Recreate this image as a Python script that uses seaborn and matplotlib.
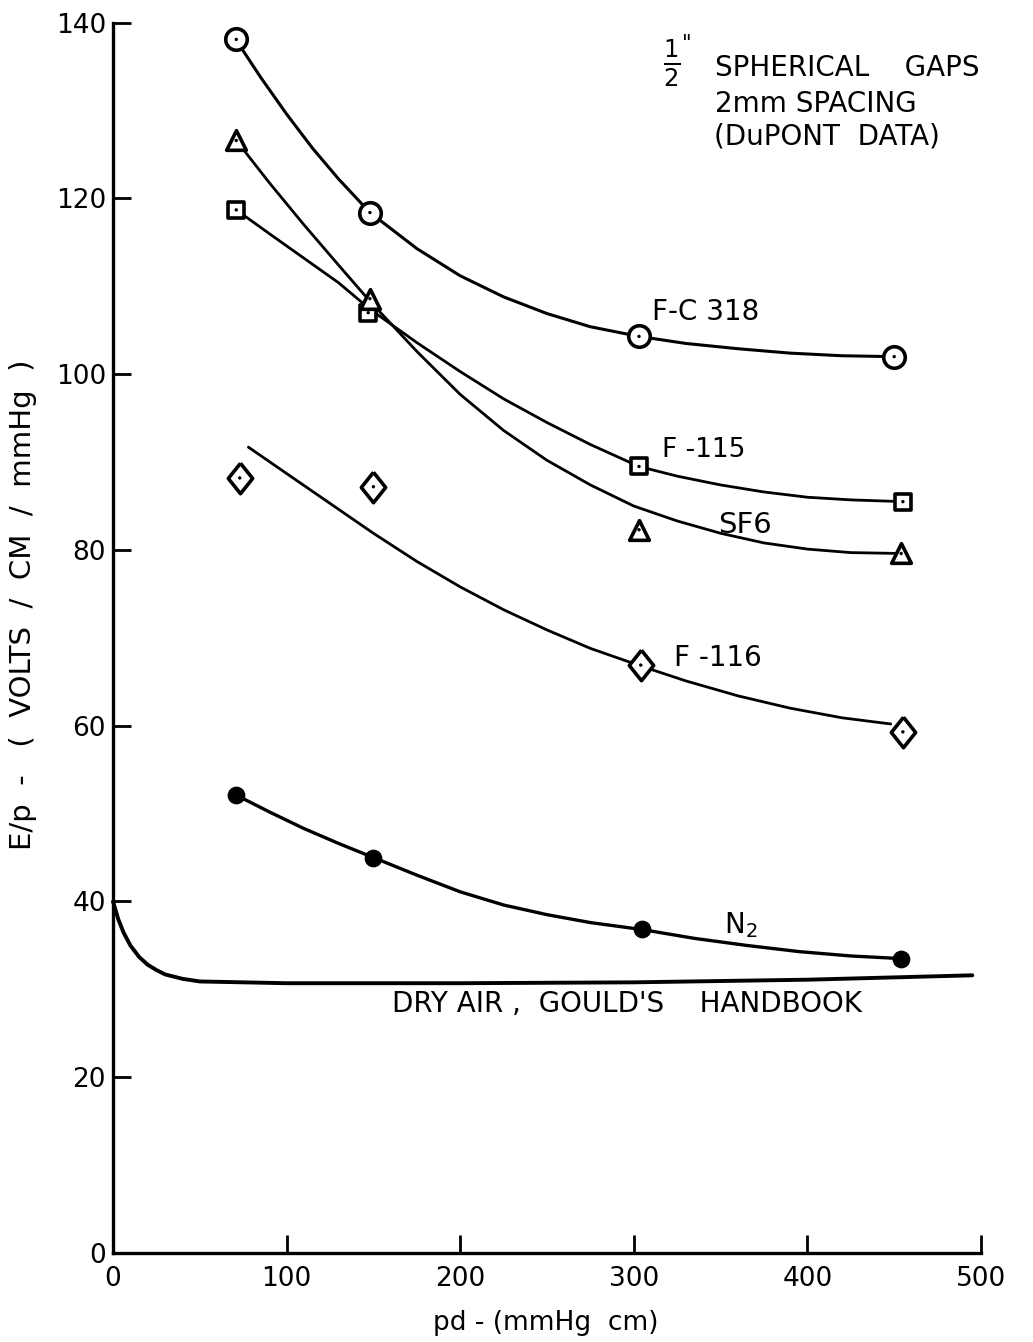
import numpy as np
import pandas as pd
import matplotlib
matplotlib.use("Agg")
import matplotlib.pyplot as plt
import seaborn as sns

# ---- measured data points (markers) ----
fc318_x = [71, 148, 303, 450]
fc318_y = [138.1, 118.4, 104.3, 102.0]
f115_x = [71, 147, 303, 455]
f115_y = [118.7, 107.0, 89.5, 85.5]
sf6_x = [71, 148, 303, 454]
sf6_y = [126.6, 108.6, 82.3, 79.6]
f116_x = [73, 150, 304, 455]
f116_y = [88.2, 87.2, 66.9, 59.3]
n2_x = [71, 150, 305, 454]
n2_y = [52.1, 45.0, 36.9, 33.5]

# ---- hand-drawn fitted curves ----
fc318_cx = [71, 85, 100, 115, 130, 148, 175, 200, 225, 250, 275, 303, 330, 360, 390, 420, 450]
fc318_cy = [138.0, 133.8, 129.6, 125.7, 122.2, 118.4, 114.3, 111.2, 108.8, 106.9, 105.4, 104.3,
            103.5, 102.9, 102.4, 102.1, 102.0]
f115_cx = [71, 90, 110, 130, 148, 175, 200, 225, 250, 275, 303, 325, 350, 375, 400, 425, 455]
f115_cy = [118.7, 116.0, 113.2, 110.4, 107.4, 103.6, 100.3, 97.2, 94.5, 92.0, 89.5, 88.4,
           87.4, 86.6, 86.0, 85.7, 85.5]
sf6_cx = [71, 90, 110, 130, 148, 175, 200, 225, 250, 275, 300, 325, 350, 375, 400, 425, 454]
sf6_cy = [126.6, 121.8, 117.0, 112.4, 108.3, 102.6, 97.7, 93.6, 90.2, 87.4, 85.0, 83.3,
          81.9, 80.8, 80.1, 79.7, 79.6]
f116_cx = [78, 100, 125, 150, 175, 200, 225, 250, 275, 304, 330, 360, 390, 420, 448]
f116_cy = [91.7, 88.7, 85.3, 81.9, 78.7, 75.8, 73.2, 70.9, 68.8, 66.8, 65.1, 63.4, 62.0, 60.9, 60.2]
n2_cx = [71, 90, 110, 130, 150, 175, 200, 225, 250, 275, 305, 335, 365, 395, 425, 454]
n2_cy = [52.1, 50.2, 48.3, 46.6, 45.0, 43.0, 41.1, 39.6, 38.5, 37.6, 36.8, 35.8, 35.0, 34.3, 33.8, 33.5]
air_cx = [0, 3, 6, 10, 15, 20, 25, 30, 40, 50, 75, 100, 200, 300, 400, 495]
air_cy = [40.0, 38.0, 36.5, 35.0, 33.7, 32.8, 32.2, 31.7, 31.2, 30.9, 30.8, 30.7, 30.7, 30.8, 31.1, 31.6]

x_ticks = [0, 100, 200, 300, 400, 500]
y_ticks = [0, 20, 40, 60, 80, 100, 120, 140]

curves = pd.concat([
    pd.DataFrame({"pd": fc318_cx, "Ep": fc318_cy, "gas": "F-C318"}),
    pd.DataFrame({"pd": f115_cx, "Ep": f115_cy, "gas": "F-115"}),
    pd.DataFrame({"pd": sf6_cx, "Ep": sf6_cy, "gas": "SF6"}),
    pd.DataFrame({"pd": f116_cx, "Ep": f116_cy, "gas": "F-116"}),
    pd.DataFrame({"pd": n2_cx, "Ep": n2_cy, "gas": "N2"}),
    pd.DataFrame({"pd": air_cx, "Ep": air_cy, "gas": "AIR"}),
], ignore_index=True)

sns.set_theme(style="ticks")
plt.rcParams["font.family"] = ["DejaVu Sans"]
plt.rcParams["mathtext.fontset"] = "dejavusans"
for k in ["text.color", "axes.labelcolor", "xtick.color", "ytick.color", "axes.edgecolor"]:
    plt.rcParams[k] = "black"

W, H = 1033, 1342
fig = plt.figure(figsize=(W / 100, H / 100), dpi=100)
ax = fig.add_axes([113 / W, 1 - 1253 / H, (981 - 113) / W, (1253 - 22.7) / H])

for g, lw in [("F-C318", 2.2), ("F-115", 2.0), ("SF6", 2.0), ("F-116", 2.0), ("N2", 2.4), ("AIR", 2.8)]:
    sub = curves[curves["gas"] == g]
    sns.lineplot(data=sub, x="pd", y="Ep", ax=ax, color="black", lw=lw,
                 sort=False, estimator=None, legend=False, clip_on=False,
                 solid_joinstyle="round", solid_capstyle="round")

diamond = [(0, 1), (0.8, 0), (0, -1), (-0.8, 0), (0, 1)]
markers = [
    (fc318_x, fc318_y, "o", 240),
    (f115_x, f115_y, "s", 130),
    (sf6_x, sf6_y, "^", 200),
    (f116_x, f116_y, diamond, 480),
]
for xs, ys, m, s in markers:
    sns.scatterplot(x=xs, y=ys, ax=ax, marker=m, s=s, facecolor="white",
                    edgecolor="black", linewidth=2.6, zorder=5, clip_on=False, legend=False)
    sns.scatterplot(x=xs, y=ys, ax=ax, marker="o", s=6, color="black",
                    edgecolor="none", zorder=6, clip_on=False, legend=False)
sns.scatterplot(x=n2_x, y=n2_y, ax=ax, marker="o", s=140, color="black",
                edgecolor="black", zorder=5, clip_on=False, legend=False)

ax.set_xlim(0, 500)
ax.set_ylim(0, 140)
ax.set_xticks(x_ticks)
ax.set_yticks(y_ticks)
ax.set_xticklabels([str(v) for v in x_ticks], fontsize=19)
ax.set_yticklabels([str(v) for v in y_ticks], fontsize=19)
ax.tick_params(axis="both", direction="in", length=13, width=2, color="black")
ax.tick_params(axis="x", pad=9)
ax.tick_params(axis="y", pad=5)
sns.despine(ax=ax)
for sp in ["left", "bottom"]:
    ax.spines[sp].set_linewidth(2.4)
    ax.spines[sp].set_color("black")
ax.set_xlabel("")
ax.set_ylabel("")

fig.text(546 / W, 1 - 1323 / H, "pd - (mmHg  cm)", ha="center", va="center", fontsize=19)
fig.text(23 / W, 1 - 605 / H, "E/p  -   (  VOLTS  /  CM  /  mmHg  )", ha="center", va="center",
         rotation=90, fontsize=21)

ax.text(310.5, 107.1, "F-C 318", fontsize=20, va="center", ha="left")
ax.text(316, 91.4, "F -115", fontsize=19, va="center", ha="left")
ax.text(348.5, 82.8, "SF6", fontsize=21, va="center", ha="left")
ax.text(323, 67.7, "F -116", fontsize=20, va="center", ha="left")
ax.text(352, 37.3, r"N$_2$", fontsize=20, va="center", ha="left")
ax.text(160.7, 28.3, "DRY AIR ,  GOULD'S    HANDBOOK", fontsize=20, va="center", ha="left")

ax.text(322, 135.4, r"$\frac{1}{2}$", fontsize=25, va="center", ha="center")
ax.text(327.5, 137.6, '"', fontsize=15, va="center", ha="left")
ax.text(346.8, 134.9, "SPHERICAL    GAPS", fontsize=20, va="center", ha="left")
ax.text(347, 130.8, "2mm SPACING", fontsize=20, va="center", ha="left")
ax.text(346, 127.0, "(DuPONT  DATA)", fontsize=20, va="center", ha="left")

fig.savefig("out.png", dpi=100)
